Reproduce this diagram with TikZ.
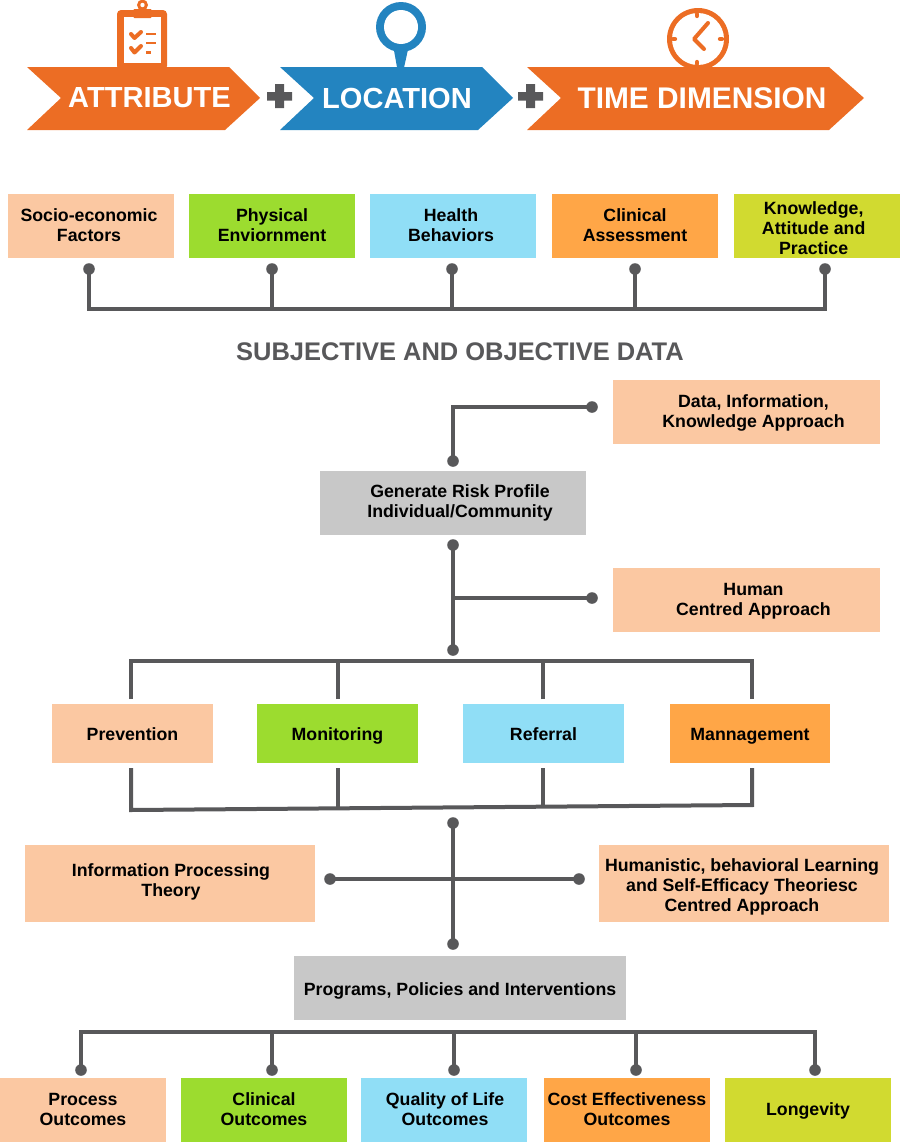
\documentclass[tikz,border=0pt]{standalone}
\usepackage{fontspec}
\setmainfont{Liberation Sans}
\definecolor{orng}{HTML}{EC6D24}
\definecolor{blu}{HTML}{2384C0}
\definecolor{grayd}{HTML}{58585A}
\definecolor{peach}{HTML}{FBC8A2}
\definecolor{grn}{HTML}{9CDC2F}
\definecolor{sky}{HTML}{90DEF6}
\definecolor{orl}{HTML}{FFA647}
\definecolor{yel}{HTML}{D1DA30}
\definecolor{grb}{HTML}{C8C8C8}
\tikzset{
  boxnode/.style={inner sep=0pt,outer sep=0pt,align=center,font=\fontsize{13.3}{15}\selectfont\bfseries,text=black},
  dot/.style={circle,fill=grayd,inner sep=0pt,minimum size=8.7pt},
  conn/.style={draw=grayd,line width=3pt,line cap=butt,line join=miter},
  head/.style={font=\fontsize{21.8}{26}\selectfont\bfseries,text=white,inner sep=0pt},
  icon/.style={line width=3pt,line cap=round,line join=round}
}
\newcommand{\bx}[9]{\node[boxnode,fill=#6,minimum width={(#4-#2)*.75pt},minimum height={(#5-#3)*.75pt}] (#1) at ({(#2+#4)/2},{(#3+#5)/2}) {\hspace*{#7pt}\raisebox{#8pt}[\height][\depth]{\begin{tabular}{@{}c@{}}#9\end{tabular}}};}
\renewcommand{\arraystretch}{1}
\setlength{\tabcolsep}{0pt}
\begin{document}
\begin{tikzpicture}[x=.75pt,y=-.75pt]
\useasboundingbox (0,0) rectangle (900,1142);
% icons
\fill[orng,rounded corners=3pt] (117,70) -- (117,10) -- (167,10) -- (167,70) -- cycle;
\fill[white] (124,17) rectangle (161,63);
\fill[orng,rounded corners=1pt] (133,18) rectangle (152,9);
\fill[orng] (142.5,5) circle[radius=5.5];
\fill[white] (142.5,5) circle[radius=2.2];
\draw[orng,icon] (131,34) -- (134.5,38) -- (141,32);
\draw[orng,icon] (131,48) -- (134.5,52.5) -- (141,46);
\draw[orng,line width=1.8pt] (146,34) -- (156,34);
\draw[orng,line width=.9pt] (146,43) -- (156,43);
\draw[orng,line width=1.8pt] (146,52.5) -- (151,52.5);
\fill[blu] (393,45) -- (397.5,70) -- (403.5,70) -- (409,45) -- cycle;
\fill[blu] (401,27) circle[radius=25];
\fill[white] (401,27) circle[radius=17];
\fill[orng] (698,39) circle[radius=31];
\fill[white] (698,39) circle[radius=26];
\draw[orng,line width=3pt,line cap=round,line join=round] (708,23) -- (694,39) -- (704,49);
\draw[orng,line width=3.2pt,line cap=round] (697,14) -- (697,16) (697,62) -- (697,64) (673,39) -- (675,39) (720,39) -- (722,39);
% arrows
\fill[orng] (27,67) -- (229,67) -- (260,98) -- (225,130) -- (27,130) -- (61,98) -- cycle;
\fill[blu] (280,67) -- (482,67) -- (513,98) -- (478,130) -- (280,130) -- (314,98) -- cycle;
\fill[orng] (527,67) -- (829,67) -- (864,98) -- (829,130) -- (527,130) -- (561,98) -- cycle;
\node[head] (attr) at (149.5,98) {ATTRIBUTE};
\node[head] (loc) at (397,98) {LOCATION};
\node[head,font=\fontsize{22.4}{26}\selectfont\bfseries] (time) at (702,98) {TIME DIMENSION};
% plus signs
\fill[grayd] (275,84) rectangle (284,108) (267,92) rectangle (292,100.5);
\fill[grayd] (526,84) rectangle (535,108) (518,92) rectangle (543,100.5);
% row 1
\bx{a1}{8}{194}{174}{258}{peach}{-3}{-.75}{Socio-economic\\Factors}
\bx{a2}{189}{194}{355}{258}{grn}{0}{-.75}{Physical\\Enviornment}
\bx{a3}{370}{194}{536}{258}{sky}{-3}{-.75}{Health\\Behaviors}
\bx{a4}{552}{194}{718}{258}{orl}{0}{-.75}{Clinical\\Assessment}
\bx{a5}{734}{194}{900}{258}{yel}{-5}{-3}{Knowledge,\\Attitude and\\Practice}
\node[dot] (d1) at (89,269) {};
\node[dot] (d2) at (272,269) {};
\node[dot] (d3) at (452,269) {};
\node[dot] (d4) at (635,269) {};
\node[dot] (d5) at (825,269) {};
\coordinate (b1) at (89,309);
\coordinate (b5) at (825,309);
\draw[conn] (d1.center) -- (b1) -- (b5) -- (d5.center);
\draw[conn] (d2.center) -- (d2.center |- b1);
\draw[conn] (d3.center) -- (d3.center |- b1);
\draw[conn] (d4.center) -- (d4.center |- b1);
\node[font=\fontsize{19.1}{22}\selectfont\bfseries,text=grayd,inner sep=0pt] (subj) at (460,352) {SUBJECTIVE AND OBJECTIVE DATA};
% approach boxes
\bx{dik}{613}{380}{880}{444}{peach}{10.5}{-.75}{Data, Information,\\Knowledge Approach}
\bx{risk}{320}{471}{586}{535}{grb}{10.5}{0}{Generate Risk Profile\\Individual/Community}
\bx{hum}{613}{568}{880}{632}{peach}{10.5}{-.75}{Human\\Centred Approach}
\node[dot] (e1) at (592,407) {};
\node[dot] (e2) at (453,461) {};
\draw[conn] (e1.center) -| (e2.center);
\node[dot] (f1) at (453,545) {};
\node[dot] (f2) at (453,650) {};
\node[dot] (f3) at (592,598) {};
\draw[conn] (f1.center) -- (f2.center);
\draw[conn] (f3.center) -- (f1.center |- f3.center);
% four boxes
\bx{p1}{52}{704}{213}{763}{peach}{0}{-2.25}{Prevention}
\bx{p2}{257}{704}{418}{763}{grn}{0}{-2.25}{Monitoring}
\bx{p3}{463}{704}{624}{763}{sky}{0}{-2.25}{Referral}
\bx{p4}{670}{704}{830}{763}{orl}{0}{-2.25}{Mannagement}
\coordinate (t1) at (131,699);
\coordinate (t2) at (338,699);
\coordinate (t3) at (543,699);
\coordinate (t4) at (752,699);
\coordinate (tb) at (131,661);
\draw[conn] (t1) -- (tb) -- (tb -| t4) -- (t4);
\draw[conn] (t2) -- (t2 |- tb);
\draw[conn] (t3) -- (t3 |- tb);
\coordinate (u1) at (131,768);
\coordinate (u2) at (338,768);
\coordinate (u3) at (543,768);
\coordinate (u4) at (752,768);
\coordinate (v1) at (131,810);
\coordinate (v2) at (338,808.5);
\coordinate (v3) at (543,806.5);
\coordinate (v4) at (752,805);
\draw[conn] (u1) -- (v1) -- (v4) -- (u4);
\draw[conn] (u2) -- (v2);
\draw[conn] (u3) -- (v3);
% theories
\bx{ipt}{25}{845}{315}{922}{peach}{1.5}{.75}{Information Processing\\Theory}
\bx{hbl}{599}{845}{889}{922}{peach}{-3}{-3}{Humanistic, behavioral Learning\\and Self-Efficacy Theoriesc\\Centred Approach}
\node[dot] (g1) at (453,823) {};
\node[dot] (g2) at (453,944) {};
\node[dot] (g3) at (330,879) {};
\node[dot] (g4) at (579,879) {};
\draw[conn] (g1.center) -- (g2.center);
\draw[conn] (g3.center) -- (g4.center);
\bx{ppi}{294}{956}{626}{1020}{grb}{0}{-2.25}{Programs, Policies and Interventions}
% outcomes
\node[dot] (h1) at (81,1070) {};
\node[dot] (h2) at (272,1070) {};
\node[dot] (h3) at (454,1070) {};
\node[dot] (h4) at (636,1070) {};
\node[dot] (h5) at (815,1070) {};
\coordinate (c1) at (81,1032);
\coordinate (c5) at (815,1032);
\draw[conn] (h1.center) -- (c1) -- (c5) -- (h5.center);
\draw[conn] (h2.center) -- (h2.center |- c1);
\draw[conn] (h3.center) -- (h3.center |- c1);
\draw[conn] (h4.center) -- (h4.center |- c1);
\bx{o1}{0}{1078}{166}{1142}{peach}{0}{-.75}{Process\\Outcomes}
\bx{o2}{181}{1078}{347}{1142}{grn}{0}{-.75}{Clinical\\Outcomes}
\bx{o3}{361}{1078}{527}{1142}{sky}{1.5}{-.75}{Quality of Life\\Outcomes}
\bx{o4}{544}{1078}{710}{1142}{orl}{0}{-.75}{Cost Effectiveness\\Outcomes}
\bx{o5}{725}{1078}{891}{1142}{yel}{0}{-.75}{Longevity}
\end{tikzpicture}
\end{document}
